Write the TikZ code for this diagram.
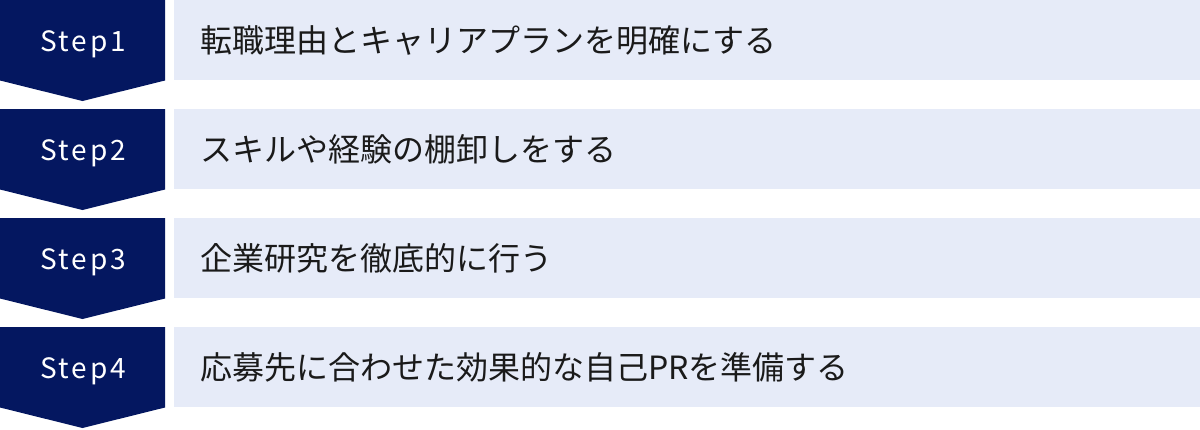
\documentclass[tikz,border=0pt]{standalone}
\usepackage{fontspec}
\setmainfont{Noto Sans CJK JP}
\newfontfamily\stepfont[LetterSpace=10]{Noto Sans CJK JP}
\definecolor{navy}{HTML}{041760}
\definecolor{pale}{HTML}{E6EBF8}
\definecolor{ink}{HTML}{1A1A1A}
\begin{document}
\begin{tikzpicture}[x=1pt,y=-1pt,
  steplabel/.style={text=white,font=\stepfont\fontsize{28}{30}\selectfont,inner sep=0pt,anchor=base},
  itemtext/.style={text=ink,font=\fontsize{32}{34}\selectfont,inner sep=0pt,anchor=west},
]
\useasboundingbox (0,0) rectangle (1200,429);
\foreach \i/\t in {1/{転職理由とキャリアプランを明確にする},2/{スキルや経験の棚卸しをする},3/{企業研究を徹底的に行う},4/{応募先に合わせた効果的な自己PRを準備する}}{
  \pgfmathsetmacro{\top}{109*(\i-1)}
  \fill[navy] (0,\top) -- (165,\top) -- (165,\top+80.5) -- (82.5,\top+101) -- (0,\top+80.5) -- cycle;
  \fill[pale] (174,\top) rectangle (1200,\top+79.5);
  \node[steplabel] (s\i) at (83,\top+51.5) {Step\i};
  \node[itemtext] (t\i) at (200,\top+40) {\t};
}
\end{tikzpicture}
\end{document}
